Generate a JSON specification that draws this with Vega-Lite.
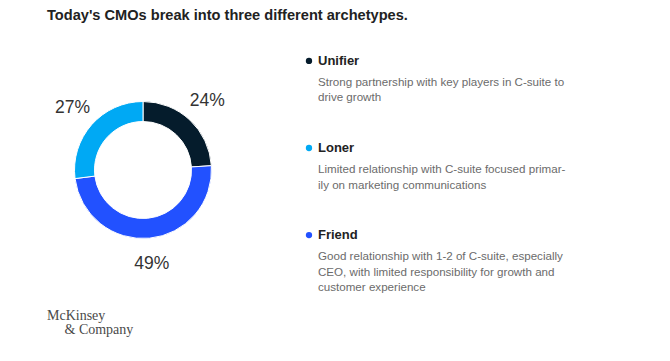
{
  "$schema": "https://vega.github.io/schema/vega-lite/v6.json",
  "background": "white",
  "padding": {"left": 47, "top": 8, "right": 5, "bottom": 5},
  "title": {
    "text": "Today's CMOs break into three different archetypes.",
    "anchor": "start",
    "frame": "group",
    "font": "Liberation Sans",
    "fontSize": 14.6,
    "fontWeight": 600,
    "color": "#222222",
    "offset": 17
  },
  "datasets": {
    "cmo": [
      {"archetype": "Unifier", "rank": 1, "share": 24, "label": "24%", "description": "Strong partnership with key players in C-suite to\ndrive growth"},
      {"archetype": "Friend", "rank": 2, "share": 49, "label": "49%", "description": "Good relationship with 1-2 of C-suite, especially\nCEO, with limited responsibility for growth and\ncustomer experience"},
      {"archetype": "Loner", "rank": 3, "share": 27, "label": "27%", "description": "Limited relationship with C-suite focused primar-\nily on marketing communications"}
    ]
  },
  "data": {"name": "cmo"},
  "spacing": 66,
  "hconcat": [
    {
      "width": 192,
      "height": 260,
      "title": {
        "text": ["McKinsey", "\u200b\u2003\u2005& Company"],
        "orient": "bottom",
        "anchor": "start",
        "font": "Liberation Serif",
        "fontSize": 14,
        "fontWeight": "normal",
        "color": "#4a4a4a",
        "lineHeight": 14,
        "offset": 9
      },
      "encoding": {
        "theta": {"field": "share", "type": "quantitative", "stack": true},
        "order": {"field": "rank", "type": "quantitative"}
      },
      "layer": [
        {
          "mark": {"type": "arc", "innerRadius": 48.5, "outerRadius": 68.5, "stroke": "white", "strokeWidth": 1},
          "encoding": {
            "color": {
              "field": "archetype",
              "type": "nominal",
              "scale": {"domain": ["Unifier", "Loner", "Friend"], "range": ["#051c2c", "#00a9f4", "#2251ff"]},
              "legend": null
            }
          }
        },
        {
          "mark": {"type": "text", "radius": 94, "font": "Liberation Sans", "fontSize": 17.5, "color": "#333333"},
          "encoding": {"text": {"field": "label", "type": "nominal"}}
        }
      ]
    },
    {
      "width": 250,
      "height": 216,
      "encoding": {
        "y": {"field": "archetype", "type": "nominal", "sort": ["Unifier", "Loner", "Friend"], "scale": {"type": "point", "padding": 0.24}, "axis": null},
        "x": {"datum": 0, "type": "quantitative", "scale": {"domain": [0, 1]}, "axis": null}
      },
      "layer": [
        {
          "mark": {"type": "circle", "size": 40, "opacity": 1},
          "encoding": {
            "color": {"field": "archetype", "type": "nominal", "legend": null}
          }
        },
        {
          "mark": {"type": "text", "align": "left", "baseline": "middle", "dx": 9, "font": "Liberation Sans", "fontSize": 13, "fontWeight": 600, "color": "#222222"},
          "encoding": {"text": {"field": "archetype", "type": "nominal"}}
        },
        {
          "mark": {"type": "text", "align": "left", "baseline": "top", "dx": 9, "dy": 16, "lineBreak": "\n", "lineHeight": 15.5, "font": "Liberation Sans", "fontSize": 11.6, "color": "#6b6b6b"},
          "encoding": {"text": {"field": "description", "type": "nominal"}}
        }
      ]
    }
  ],
  "config": {"view": {"stroke": null}}
}
